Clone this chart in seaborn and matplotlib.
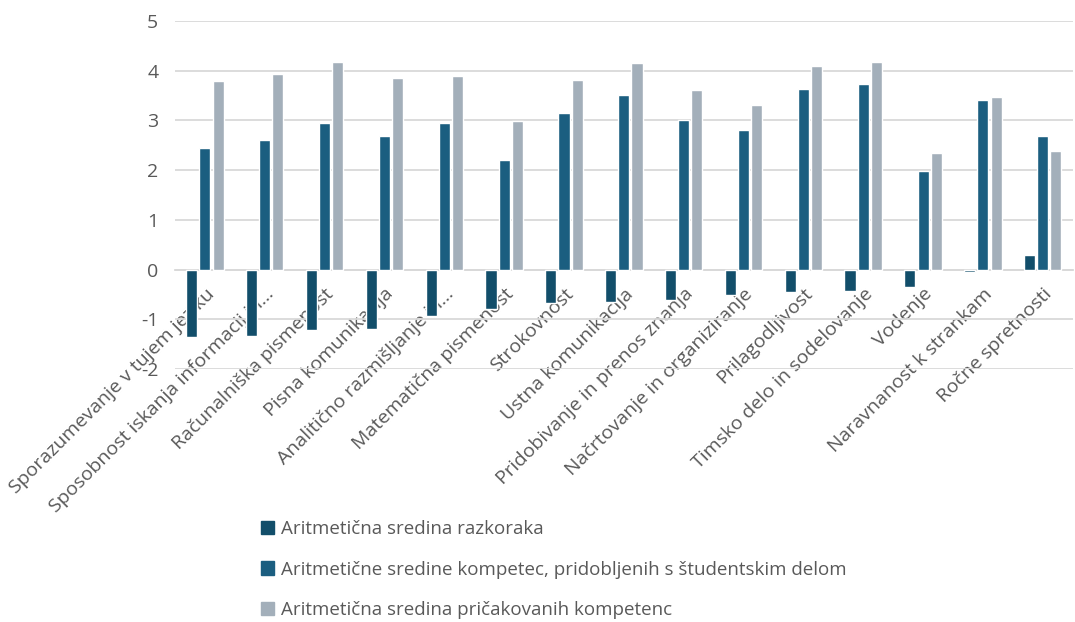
import matplotlib
matplotlib.use("Agg")
import matplotlib.pyplot as plt
import seaborn as sns
import pandas as pd

categories = [
    "Sporazumevanje v tujem jeziku",
    "Sposobnost iskanja informacij in...",
    "Računalniška pismenost",
    "Pisna komunikacija",
    "Analitično razmišljanje in...",
    "Matematična pismenost",
    "Strokovnost",
    "Ustna komunikacija",
    "Pridobivanje in prenos znanja",
    "Načrtovanje in organiziranje",
    "Prilagodljivost",
    "Timsko delo in sodelovanje",
    "Vodenje",
    "Naravnanost k strankam",
    "Ročne spretnosti",
]
gap_mean = [-1.36, -1.33, -1.22, -1.19, -0.94, -0.79, -0.67, -0.65,
            -0.61, -0.51, -0.46, -0.44, -0.35, -0.05, 0.29]
acquired_mean = [2.44, 2.61, 2.95, 2.68, 2.95, 2.21, 3.15, 3.51,
                 3.00, 2.80, 3.64, 3.74, 1.99, 3.42, 2.68]
expected_mean = [3.80, 3.94, 4.18, 3.86, 3.90, 2.99, 3.82, 4.16,
                 3.61, 3.31, 4.10, 4.18, 2.34, 3.47, 2.39]
series = [
    "Aritmetična sredina razkoraka",
    "Aritmetične sredine kompetec, pridobljenih s študentskim delom",
    "Aritmetična sredina pričakovanih kompetenc",
]
colors = ["#124E6A", "#1B5E80", "#A3AFBA"]

df = pd.DataFrame({
    "kategorija": categories * 3,
    "vrednost": gap_mean + acquired_mean + expected_mean,
    "serija": [series[0]] * 15 + [series[1]] * 15 + [series[2]] * 15,
})

sns.set_theme(style="white")
plt.rcParams["font.family"] = ["Open Sans", "DejaVu Sans"]
plt.rcParams["axes.unicode_minus"] = False
text_color = "#595959"
font_size = 14

fig = plt.figure(figsize=(10.75, 6.22), dpi=100)
ax = fig.add_axes([0.1628, 0.4068, 0.835, 0.5594])

sns.barplot(data=df, x="kategorija", y="vrednost", hue="serija",
            hue_order=series, palette=colors, width=0.66, gap=0.16,
            order=categories, ax=ax, legend=False, saturation=1)

ax.set_ylim(-2, 5)
ax.set_xlim(-0.5, len(categories) - 0.5)
ax.set_yticks(range(-2, 6))
ax.yaxis.grid(True, color="#D9D9D9", linewidth=1.3)
ax.set_axisbelow(True)
for side in ["top", "right", "left"]:
    ax.spines[side].set_visible(False)
ax.spines["bottom"].set_position(("data", 0))
ax.spines["bottom"].set_color("#D9D9D9")
ax.spines["bottom"].set_linewidth(1.3)
ax.spines["bottom"].set_zorder(0.5)
ax.set_xlabel("")
ax.set_ylabel("")
ax.tick_params(axis="y", length=0, pad=12, labelsize=font_size, labelcolor=text_color)
ax.tick_params(axis="x", length=0, pad=11)
ax.set_xticks(range(len(categories)))
ax.set_xticklabels(categories, rotation=45, ha="right", rotation_mode="anchor",
                   fontsize=font_size, color=text_color)
for lbl in ax.get_xticklabels():
    lbl.set_zorder(5)

handles = [plt.Rectangle((0, 0), 1, 1, color=c) for c in colors]
fig.legend(handles, series, loc="upper left", bbox_to_anchor=(0.2355, 0.176),
           frameon=False, fontsize=13.5, labelcolor=text_color,
           handlelength=0.7, handleheight=0.7, handletextpad=0.4,
           labelspacing=1.2, borderaxespad=0)

fig.savefig("out.png", dpi=100)
